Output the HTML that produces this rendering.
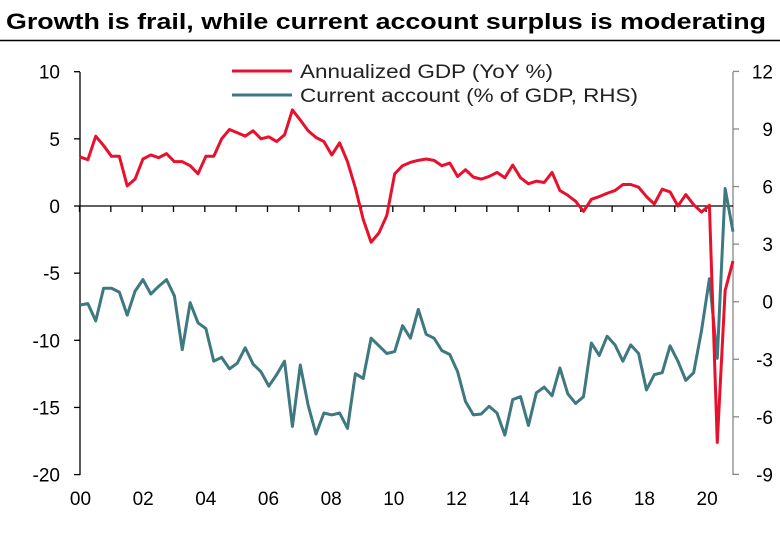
<!DOCTYPE html>
<html><head><meta charset="utf-8"><style>
body{margin:0;background:#fff;}
svg text{font-family:"Liberation Sans",sans-serif;}
</style></head><body>
<svg id="c" width="780" height="551">
<text x="6" y="29" font-size="22" font-weight="bold" fill="#000" textLength="760" lengthAdjust="spacingAndGlyphs">Growth is frail, while current account surplus is moderating</text>
<line x1="0" y1="40.5" x2="780" y2="40.5" stroke="#000" stroke-width="1.5"/>
<g id="axes"></g>
<g id="series"></g>
<g>
<line x1="232" y1="71" x2="292" y2="71" stroke="#e8112d" stroke-width="3"/>
<text x="300" y="78" font-size="19" fill="#222" textLength="253" lengthAdjust="spacingAndGlyphs">Annualized GDP (YoY %)</text>
<line x1="232" y1="95" x2="292" y2="95" stroke="#3e7880" stroke-width="3"/>
<text x="300" y="102" font-size="19" fill="#222" textLength="338" lengthAdjust="spacingAndGlyphs">Current account (% of GDP, RHS)</text>
</g>
</svg>
<script>
const gdp=[3.65,3.45,5.2,4.5,3.7,3.7,1.5,2.0,3.5,3.8,3.6,3.9,3.3,3.3,3.0,2.4,3.7,3.7,5.0,5.7,5.45,5.2,5.6,5.0,5.15,4.8,5.3,7.15,6.4,5.6,5.1,4.8,3.8,4.7,3.3,1.35,-1.0,-2.7,-2.0,-0.7,2.4,3.0,3.25,3.4,3.5,3.4,3.0,3.2,2.2,2.7,2.15,2.0,2.2,2.5,2.1,3.05,2.1,1.65,1.85,1.75,2.5,1.15,0.8,0.35,-0.4,0.5,0.7,0.95,1.15,1.6,1.6,1.4,0.7,0.15,1.25,1.05,0,0.85,0.1,-0.45,0.05,-17.6,-6.3,-4.1];
const ca=[-0.17,-0.1,-1.0,0.7,0.7,0.5,-0.7,0.55,1.15,0.4,0.8,1.15,0.3,-2.5,-0.05,-1.1,-1.4,-3.1,-2.9,-3.5,-3.2,-2.4,-3.25,-3.65,-4.4,-3.8,-3.1,-6.5,-3.3,-5.4,-6.9,-5.8,-5.9,-5.8,-6.6,-3.75,-4.0,-1.9,-2.3,-2.7,-2.6,-1.25,-1.9,-0.4,-1.7,-1.9,-2.55,-2.75,-3.65,-5.2,-5.9,-5.85,-5.45,-5.8,-6.95,-5.1,-4.95,-6.45,-4.75,-4.45,-4.9,-3.45,-4.8,-5.3,-4.95,-2.15,-2.8,-1.8,-2.25,-3.1,-2.25,-2.7,-4.6,-3.8,-3.7,-2.3,-3.1,-4.1,-3.7,-1.5,1.2,-2.95,5.9,3.65];
const leftTicks=[10,5,0,-5,-10,-15,-20];
const rightTicks=[12,9,6,3,0,-3,-6,-9];
const xLabels=["00","02","04","06","08","10","12","14","16","18","20"];
const NS="http://www.w3.org/2000/svg";
const yL=v=>206-(v)*13.43;
const yR=v=>301.7-(v)*19.19;
const xYear=y=>79.5+31.33*y;
const xQ=i=>80+i*(653/83);
function mk(tag,attrs,parent){const e=document.createElementNS(NS,tag);for(const k in attrs)e.setAttribute(k,attrs[k]);parent.appendChild(e);return e;}
const ax=document.getElementById('axes'),se=document.getElementById('series');
let e=mk('line',{x1:80,y1:72,x2:80,y2:475,stroke:'#000','stroke-width':1.3},ax);


e=mk('line',{x1:733,y1:72,x2:733,y2:475,stroke:'#888','stroke-width':1.3},ax);


e=mk('line',{x1:80,y1:yL(0),x2:733,y2:yL(0),stroke:'#000','stroke-width':1.3},ax);


leftTicks.forEach(v=>{
 mk('line',{x1:74,y1:yL(v),x2:80,y2:yL(v),stroke:'#000','stroke-width':1.3},ax);
 const t=mk('text',{x:60,y:yL(v)+7,'font-size':19,'text-anchor':'end',fill:'#000'},ax);t.textContent=v;
 
 
});
rightTicks.forEach(v=>{
 mk('line',{x1:733,y1:yR(v),x2:739,y2:yR(v),stroke:'#888','stroke-width':1.3},ax);
 const t=mk('text',{x:773,y:yR(v)+7,'font-size':19,'text-anchor':'end',fill:'#000'},ax);t.textContent=v;
 
 
});
for(let y=0;y<=20;y++){mk('line',{x1:xYear(y),y1:yL(0),x2:xYear(y),y2:yL(0)+6,stroke:'#000','stroke-width':1.3},ax);}
xLabels.forEach((l,i)=>{
 const t=mk('text',{x:xYear(i*2)+1,y:505,'font-size':19,'text-anchor':'middle',fill:'#000'},ax);t.textContent=l;
 
 
});
let p=mk('polyline',{points:ca.map((v,i)=>xQ(i)+','+yR(v)).join(' '),fill:'none',stroke:'#3e7880','stroke-width':3,'stroke-linejoin':'round'},se);


p=mk('polyline',{points:gdp.map((v,i)=>xQ(i)+','+yL(v)).join(' '),fill:'none',stroke:'#e8112d','stroke-width':3,'stroke-linejoin':'round'},se);


</script>
</body></html>
